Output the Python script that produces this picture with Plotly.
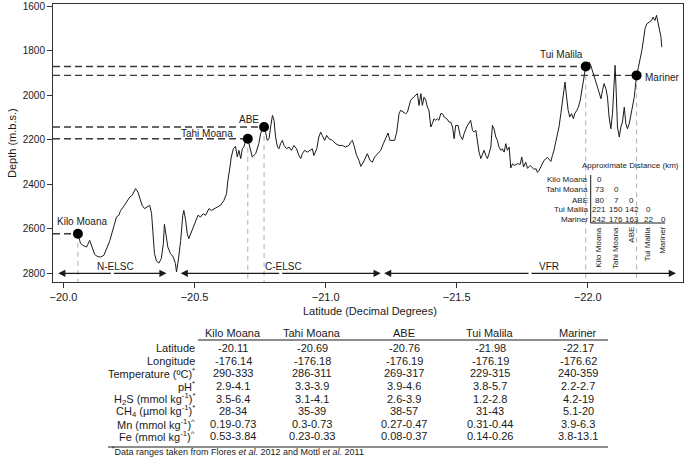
import plotly.graph_objects as go

# ---------------- data ----------------
profile_lat = [-20.055,-20.065,-20.074,-20.088,-20.100,-20.110,-20.119,-20.129,-20.141,-20.154,
 -20.160,-20.167,-20.177,-20.186,-20.192,-20.202,-20.211,-20.218,-20.228,-20.237,
 -20.243,-20.253,-20.262,-20.268,-20.275,-20.284,-20.291,-20.300,-20.309,-20.319,
 -20.329,-20.336,-20.342,-20.347,-20.355,-20.364,-20.373,-20.381,-20.385,-20.393,
 -20.398,-20.408,-20.419,-20.427,-20.431,-20.438,-20.447,-20.455,-20.459,-20.466,
 -20.472,-20.478,-20.485,-20.495,-20.504,-20.513,-20.523,-20.533,-20.542,-20.555,
 -20.564,-20.574,-20.587,-20.599,-20.612,-20.622,-20.627,-20.635,-20.640,-20.648,
 -20.656,-20.663,-20.669,-20.676,-20.682,-20.688,-20.695,-20.703,-20.711,-20.720,
 -20.733,-20.745,-20.752,-20.758,-20.765,-20.771,-20.777,-20.784,-20.790,-20.797,
 -20.803,-20.809,-20.816,-20.822,-20.828,-20.835,-20.841,-20.851,-20.860,-20.869,
 -20.879,-20.889,-20.898,-20.905,-20.911,-20.920,-20.930,-20.943,-20.949,-20.955,
 -20.966,-20.974,-20.981,-20.987,-20.996,-21.004,-21.013,-21.026,-21.038,-21.051,
 -21.064,-21.076,-21.089,-21.095,-21.102,-21.108,-21.118,-21.127,-21.134,-21.144,
 -21.153,-21.159,-21.169,-21.178,-21.187,-21.197,-21.210,-21.220,-21.229,-21.238,
 -21.245,-21.255,-21.263,-21.271,-21.280,-21.286,-21.297,-21.305,-21.312,-21.318,
 -21.324,-21.335,-21.344,-21.350,-21.356,-21.363,-21.369,-21.375,-21.382,-21.388,
 -21.394,-21.401,-21.407,-21.413,-21.420,-21.426,-21.432,-21.439,-21.445,-21.452,
 -21.462,-21.471,-21.477,-21.484,-21.490,-21.496,-21.505,-21.513,-21.522,-21.528,
 -21.538,-21.547,-21.553,-21.560,-21.566,-21.573,-21.579,-21.585,-21.592,-21.598,
 -21.604,-21.611,-21.617,-21.623,-21.630,-21.636,-21.642,-21.649,-21.655,-21.661,
 -21.668,-21.674,-21.681,-21.687,-21.693,-21.700,-21.706,-21.713,-21.719,-21.732,
 -21.742,-21.748,-21.755,-21.763,-21.770,-21.780,-21.789,-21.795,-21.802,-21.808,
 -21.814,-21.821,-21.833,-21.846,-21.859,-21.865,-21.871,-21.878,-21.884,-21.890,
 -21.897,-21.903,-21.910,-21.913,-21.919,-21.925,-21.931,-21.938,-21.945,-21.950,
 -21.958,-21.964,-21.971,-21.977,-21.984,-21.990,-21.992,-21.999,-22.005,-22.011,
 -22.018,-22.024,-22.031,-22.037,-22.043,-22.050,-22.056,-22.062,-22.069,-22.075,
 -22.081,-22.088,-22.094,-22.100,-22.104,-22.108,-22.113,-22.120,-22.126,-22.132,
 -22.139,-22.145,-22.151,-22.158,-22.164,-22.171,-22.177,-22.181,-22.186,-22.193,
 -22.200,-22.206,-22.213,-22.218,-22.225,-22.234,-22.243,-22.249,-22.256,-22.262,
 -22.268,-22.274,-22.279,-22.282]
profile_depth = [2622,2665,2674,2682,2652,2689,2715,2724,2727,2719,
 2697,2682,2652,2614,2584,2547,2539,2517,2502,2487,
 2472,2457,2449,2435,2419,2435,2457,2494,2509,2502,
 2494,2532,2622,2711,2745,2754,2734,2666,2580,2637,
 2682,2711,2727,2756,2794,2741,2652,2539,2517,2562,
 2622,2644,2622,2599,2562,2539,2547,2532,2539,2509,
 2517,2509,2502,2494,2472,2442,2382,2322,2277,2240,
 2229,2277,2247,2284,2240,2232,2202,2195,2232,2277,
 2262,2217,2172,2150,2142,2165,2202,2195,2142,2090,
 2112,2187,2232,2240,2217,2202,2225,2240,2232,2247,
 2225,2240,2270,2284,2262,2247,2255,2247,2240,2270,
 2240,2187,2165,2180,2202,2180,2195,2202,2217,2225,
 2225,2232,2225,2210,2202,2225,2270,2292,2319,2300,
 2277,2262,2292,2300,2277,2262,2247,2217,2195,2169,
 2202,2202,2202,2165,2082,2067,2075,2082,2075,2045,
 2022,2008,2000,1992,2045,1992,2045,2008,2022,2053,
 2067,2142,2127,2105,2112,2105,2112,2082,2082,2097,
 2105,2120,2120,2142,2195,2135,2135,2180,2199,2172,
 2142,2120,2112,2157,2165,2157,2202,2255,2284,2262,
 2247,2270,2284,2262,2232,2135,2150,2187,2202,2232,
 2247,2240,2255,2217,2247,2232,2326,2307,2315,2307,
 2310,2277,2322,2300,2328,2315,2324,2333,2329,2346,
 2337,2319,2292,2279,2297,2270,2247,2207,2175,2142,
 2082,2022,1977,1940,2008,2067,2097,2082,2105,2082,
 2067,2053,2022,1977,1933,1888,1870,1880,1850,1865,
 1895,1918,1940,1963,1985,2015,1977,1947,1970,2008,
 2097,2150,2082,1977,1865,1977,2142,2187,2142,2120,
 2053,2127,2150,2127,2090,2053,2008,1963,1910,1873,
 1835,1798,1745,1700,1678,1671,1663,1648,1663,1640,
 1671,1708,1738,1783]

site_names = ["Kilo Moana", "Tahi Moana", "ABE", "Tui Malila", "Mariner"]
site_lat = [-20.055, -20.703, -20.765, -21.992, -22.186]
site_depth = [2622, 2195, 2142, 1870, 1910]

region_names = ["N-ELSC", "C-ELSC", "VFR"]
region_start = [-19.980, -20.447, -21.223]
region_end = [-20.393, -21.210, -22.336]
region_label_lat = [-20.200, -20.840, -21.850]
region_depth = 2800

dist_matrix = [[0], [73, 0], [80, 7, 0], [221, 150, 142, 0], [242, 176, 163, 22, 0]]

x_ticks = [-20.0, -20.5, -21.0, -21.5, -22.0]
y_ticks = [1600, 1800, 2000, 2200, 2400, 2600, 2800]

table_row_labels = ["Latitude", "Longitude", "Temperature (ºC)<sup>*</sup>", "pH<sup>*</sup>",
                    "H<sub>2</sub>S (mmol kg<sup>-1</sup>)<sup>*</sup>",
                    "CH<sub>4</sub> (µmol kg<sup>-1</sup>)<sup>*</sup>",
                    "Mn (mmol kg<sup>-1</sup>)<sup>^</sup>",
                    "Fe (mmol kg<sup>-1</sup>)<sup>^</sup>"]
table_values = [
    ["-20.11", "-20.69", "-20.76", "-21.98", "-22.17"],
    ["-176.14", "-176.18", "-176.19", "-176.19", "-176.62"],
    ["290-333", "286-311", "269-317", "229-315", "240-359"],
    ["2.9-4.1", "3.3-3.9", "3.9-4.6", "3.8-5.7", "2.2-2.7"],
    ["3.5-6.4", "3.1-4.1", "2.6-3.9", "1.2-2.8", "4.2-19"],
    ["28-34", "35-39", "38-57", "31-43", "5.1-20"],
    ["0.19-0.73", "0.3-0.73", "0.27-0.47", "0.31-0.44", "3.9-6.3"],
    ["0.53-3.84", "0.23-0.33", "0.08-0.37", "0.14-0.26", "3.8-13.1"],
]

# ---------------- layout helpers ----------------
W, H = 685, 460
L, R, T, B = 53, 683, 4, 282
XR = [-19.960, -22.363]
YR = [2839, 1589]
FONT = "Liberation Sans, Arial, sans-serif"
INK = "#1a1a1a"

def px(x):
    return (x - L) / (R - L)

def py(y):
    return (B - y) / (B - T)

def label(x, y, text, size, xanchor="center", yanchor="middle", **kw):
    d = dict(x=px(x), y=py(y), xref="paper", yref="paper", text=text, showarrow=False,
             xanchor=xanchor, yanchor=yanchor, borderpad=0,
             font=dict(family=FONT, size=size, color=INK))
    d.update(kw)
    return d

fig = go.Figure()

# horizontal dashed lines from left edge to site
for lat, d in zip(site_lat, site_depth):
    fig.add_trace(go.Scatter(x=[XR[0], lat], y=[d, d], mode="lines",
                             line=dict(color="#3a3a3a", width=1.3, dash="7px,4px"),
                             hoverinfo="skip", showlegend=False))
# vertical dashed light gray lines from site to bottom
for lat, d in zip(site_lat, site_depth):
    fig.add_trace(go.Scatter(x=[lat, lat], y=[d, YR[0]], mode="lines",
                             line=dict(color="#b0b0b0", width=1, dash="5px,4px"),
                             hoverinfo="skip", showlegend=False))

# bathymetric profile
fig.add_trace(go.Scatter(x=profile_lat, y=profile_depth, mode="lines",
                         line=dict(color=INK, width=1), showlegend=False))
# sites
fig.add_trace(go.Scatter(x=site_lat, y=site_depth, mode="markers",
                         marker=dict(color="black", size=10), showlegend=False))

ann = []
# site labels
site_label_px = [(82, 221), (207, 133), (249, 120), (561, 55), (662, 77)]
for name, (lx, ly) in zip(site_names, site_label_px):
    ann.append(label(lx, ly, name, 10))

# region arrows (two-headed)
for name, s, e, lab in zip(region_names, region_start, region_end, region_label_lat):
    mid = (s + e) / 2
    for end in (s, e):
        ann.append(dict(x=end, y=region_depth, ax=mid, ay=region_depth, xref="x", yref="y",
                        axref="x", ayref="y", text="", showarrow=True, arrowhead=2,
                        arrowsize=1.1, arrowwidth=1.3, arrowcolor=INK, standoff=0, startstandoff=0))
    ann.append(dict(x=lab, y=region_depth, xref="x", yref="y", text=name, showarrow=False,
                    xanchor="center", yanchor="middle", yshift=7,
                    font=dict(family=FONT, size=10, color=INK)))

# distance matrix inset
ann.append(label(630, 166, "Approximate Distance (km)", 8))
row_y = [179.5, 189.5, 200, 209.5, 219.5]
col_x = [599.3, 616, 631.7, 648.3, 663.3]
for i, name in enumerate(site_names):
    ann.append(label(588.5, row_y[i], name, 8, xanchor="right"))
    for j, v in enumerate(dist_matrix[i]):
        ann.append(label(col_x[j], row_y[i], str(v), 8))
    ann.append(label(col_x[i] - 1, 226, name, 8, yanchor="top", textangle=-90))

# axis titles
ann.append(label(12, 143, "Depth (m.b.s.)", 11, textangle=-90))
ann.append(label(370, 311, "Latitude (Decimal Degrees)", 11))

# chemistry table
col_centers = [233, 312, 404, 490, 578]
for name, cx in zip(site_names, col_centers):
    ann.append(label(cx, 333, name, 11))
table_row_y = [348, 360.7, 373.3, 386, 398.5, 411, 423.5, 436]
for lab, vals, ry in zip(table_row_labels, table_values, table_row_y):
    ann.append(label(196, ry, lab, 11, xanchor="right"))
    for v, cx in zip(vals, col_centers):
        ann.append(label(cx, ry, v, 11))
ann.append(label(238, 451,
                 "<sup>*</sup>Data ranges taken from Flores <i>et al.</i> 2012 and Mottl <i>et al.</i> 2011", 9))

shapes = [
    dict(type="line", xref="paper", yref="paper", x0=px(590.7), x1=px(590.7), y0=py(175), y1=py(223),
         line=dict(color=INK, width=1)),
    dict(type="line", xref="paper", yref="paper", x0=px(590.7), x1=px(665), y0=py(223), y1=py(223),
         line=dict(color=INK, width=1)),
    dict(type="line", xref="paper", yref="paper", x0=px(198), x1=px(608), y0=py(340), y1=py(340),
         line=dict(color=INK, width=1)),
    dict(type="line", xref="paper", yref="paper", x0=px(108), x1=px(608), y0=py(447), y1=py(447),
         line=dict(color=INK, width=1)),
]

fig.update_layout(
    width=W, height=H,
    margin=dict(l=L, r=W - R, t=T, b=H - B, autoexpand=False),
    paper_bgcolor="white", plot_bgcolor="white",
    font=dict(family=FONT, color=INK),
    annotations=ann, shapes=shapes, showlegend=False,
    xaxis=dict(range=XR, tickvals=x_ticks, tickformat=".1f", ticks="outside", ticklen=5,
               tickcolor="#333", showline=True, mirror=True, linecolor="#333", linewidth=1,
               showgrid=False, zeroline=False, tickfont=dict(family=FONT, size=11, color=INK)),
    yaxis=dict(range=YR, tickvals=y_ticks, ticks="outside", ticklen=5,
               tickcolor="#333", showline=True, mirror=True, linecolor="#333", linewidth=1,
               showgrid=False, zeroline=False, tickfont=dict(family=FONT, size=10, color=INK)),
)

fig.write_html("out.html", config={"displayModeBar": False},
               post_script="document.body.style.margin='0px';document.body.style.overflow='hidden';")
